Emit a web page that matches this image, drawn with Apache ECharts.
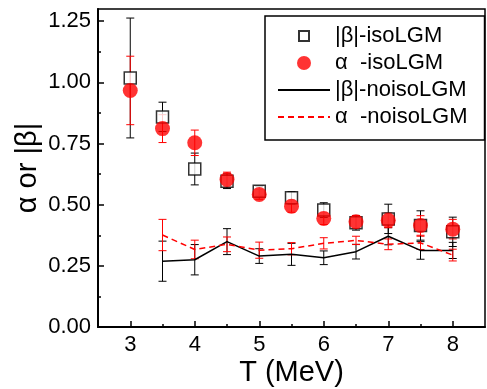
<!DOCTYPE html>
<html>
<head>
<meta charset="utf-8">
<script src="https://cdn.jsdelivr.net/npm/echarts@6/dist/echarts.min.js"></script>
<style>
  html, body { margin: 0; padding: 0; background: #fff; }
  #chart { width: 487px; height: 389px; }
</style>
</head>
<body>
<div id="chart"></div>
<script>
// temperatures (MeV)
const T = [3, 3.5, 4, 4.5, 5, 5.5, 6, 6.5, 7, 7.5, 8];
const betaIso = [1.018, 0.859, 0.646, 0.596, 0.555, 0.528, 0.478, 0.426, 0.442, 0.415, 0.389];
const betaIsoErr = [0.245, 0.06, 0.065, 0.03, 0.02, 0.025, 0.03, 0.03, 0.06, 0.06, 0.06];
const alphaIso = [0.967, 0.811, 0.753, 0.603, 0.542, 0.494, 0.444, 0.43, 0.436, 0.415, 0.4];
const alphaIsoErr = [0.14, 0.057, 0.052, 0.03, 0.02, 0.025, 0.025, 0.025, 0.03, 0.04, 0.04];

const Tno = [3.5, 4, 4.5, 5, 5.5, 6, 6.5, 7, 7.5, 8];
const betaNoiso = [0.269, 0.275, 0.349, 0.29, 0.297, 0.283, 0.308, 0.371, 0.313, 0.313];
const betaNoisoErr = [0.082, 0.062, 0.053, 0.03, 0.045, 0.028, 0.03, 0.035, 0.036, 0.033];
const alphaNoiso = [0.376, 0.317, 0.338, 0.314, 0.32, 0.342, 0.354, 0.338, 0.344, 0.294];
const alphaNoisoErr = [0.064, 0.038, 0.03, 0.033, 0.025, 0.023, 0.017, 0.022, 0.027, 0.024];

const xTicks = [3, 4, 5, 6, 7, 8];
const xMinor = [3.5, 4.5, 5.5, 6.5, 7.5];
const yTicks = [0, 0.25, 0.5, 0.75, 1, 1.25];
const yMinor = [0.125, 0.375, 0.625, 0.875, 1.125];

const names = ['|β|-isoLGM', 'α  -isoLGM', '|β|-noisoLGM', 'α  -noisoLGM'];

const FONT = 'Liberation Sans, Arial, sans-serif';

const pts = (xs, ys) => xs.map((x, i) => [x, ys[i]]);
const errs = (xs, ys, es) => xs.map((x, i) => [x, ys[i] - es[i], ys[i] + es[i]]);

function errRender(color) {
  return function (params, api) {
    const x = api.value(0);
    const lo = api.coord([x, api.value(1)]);
    const hi = api.coord([x, api.value(2)]);
    const w = 4;
    const st = { stroke: color, lineWidth: 1 };
    return {
      type: 'group',
      children: [
        { type: 'line', shape: { x1: lo[0], y1: lo[1], x2: hi[0], y2: hi[1] }, style: st },
        { type: 'line', shape: { x1: lo[0] - w, y1: lo[1], x2: lo[0] + w, y2: lo[1] }, style: st },
        { type: 'line', shape: { x1: hi[0] - w, y1: hi[1], x2: hi[0] + w, y2: hi[1] }, style: st },
      ],
    };
  };
}

function errSeries(data, color) {
  return {
    type: 'custom',
    renderItem: errRender(color),
    encode: { x: 0, y: [1, 2] },
    data,
    silent: true,
    z: 2,
  };
}

const hidden = { color: 'rgba(0,0,0,0)', borderWidth: 0, opacity: 0 };

const chart = echarts.init(document.getElementById('chart'), null, { renderer: 'canvas' });

chart.setOption({
  animation: false,
  textStyle: { fontFamily: FONT },
  grid: {
    left: 98, right: 2, top: 9, bottom: 62,
    show: true, borderColor: '#000', borderWidth: 1.5,
    outerBoundsMode: 'none',
  },
  legend: {
    orient: 'vertical',
    left: 265,
    top: 16,
    padding: [9, 17, 12, 12],
    borderColor: '#000',
    borderWidth: 1.5,
    itemWidth: 52,
    itemHeight: 14,
    itemGap: 5,
    textStyle: { fontSize: 22, color: '#000', fontFamily: FONT, lineHeight: 22 },
    data: [
      { name: names[0], icon: 'path://M-2,-2M12,12M0,0H10V10H0Z' },
      { name: names[1], icon: 'circle' },
      { name: names[2], itemStyle: hidden },
      { name: names[3], itemStyle: hidden },
    ],
  },
  xAxis: [
    {
      type: 'value', min: 2.5, max: 8.5,
      position: 'bottom',
      axisLine: { lineStyle: { color: '#000', width: 2 } },
      axisTick: { inside: true, length: 6, customValues: xTicks, lineStyle: { color: '#000', width: 1.5 } },
      axisLabel: { customValues: xTicks, fontSize: 22, color: '#000', margin: 7 },
      splitLine: { show: false },
      name: 'T (MeV)',
      nameLocation: 'middle',
      nameGap: 31,
      nameMoveOverlap: false,
      nameTextStyle: { fontSize: 29, color: '#000' },
    },
    {
      type: 'value', min: 2.5, max: 8.5,
      position: 'bottom',
      axisLine: { show: false },
      axisTick: { inside: true, length: 3, customValues: xMinor, lineStyle: { color: '#000', width: 1.5 } },
      axisLabel: { show: false },
      splitLine: { show: false },
    },
  ],
  yAxis: [
    {
      type: 'value', min: 0, max: 1.3,
      position: 'left',
      axisLine: { show: true, lineStyle: { color: '#000', width: 2 } },
      axisTick: { show: true, inside: true, length: 6, customValues: yTicks, lineStyle: { color: '#000', width: 1.5 } },
      axisLabel: { customValues: yTicks, fontSize: 22, color: '#000', margin: 7, formatter: (v) => v.toFixed(2) },
      splitLine: { show: false },
      name: 'α or |β|',
      nameLocation: 'middle',
      nameGap: 56,
      nameMoveOverlap: false,
      nameTextStyle: { fontSize: 29, color: '#000' },
    },
    {
      type: 'value', min: 0, max: 1.3,
      position: 'left',
      axisLine: { show: false },
      axisTick: { show: true, inside: true, length: 3, customValues: yMinor, lineStyle: { color: '#000', width: 1.5 } },
      axisLabel: { show: false },
      splitLine: { show: false },
    },
  ],
  series: [
    errSeries(errs(Tno, betaNoiso, betaNoisoErr), '#000'),
    errSeries(errs(Tno, alphaNoiso, alphaNoisoErr), '#ff0000'),
    {
      name: names[2],
      type: 'line',
      data: pts(Tno, betaNoiso),
      symbol: 'none',
      lineStyle: { color: '#000', width: 1.5 },
      itemStyle: { color: '#000' },
      z: 3,
    },
    {
      name: names[3],
      type: 'line',
      data: pts(Tno, alphaNoiso),
      symbol: 'none',
      lineStyle: { color: '#ff0000', width: 1.5, type: [6, 4] },
      itemStyle: { color: '#ff0000' },
      z: 3,
    },
    errSeries(errs(T, betaIso, betaIsoErr), '#000'),
    {
      name: names[0],
      type: 'scatter',
      data: pts(T, betaIso),
      symbol: 'rect',
      symbolSize: 12,
      itemStyle: { color: '#fff', borderColor: '#000', borderWidth: 1.5 },
      z: 4,
    },
    errSeries(errs(T, alphaIso, alphaIsoErr), '#ff0000'),
    {
      name: names[1],
      type: 'scatter',
      data: pts(T, alphaIso),
      symbol: 'circle',
      symbolSize: 15,
      itemStyle: { color: '#ff0000' },
      z: 5,
    },
  ],
});
</script>
</body>
</html>
